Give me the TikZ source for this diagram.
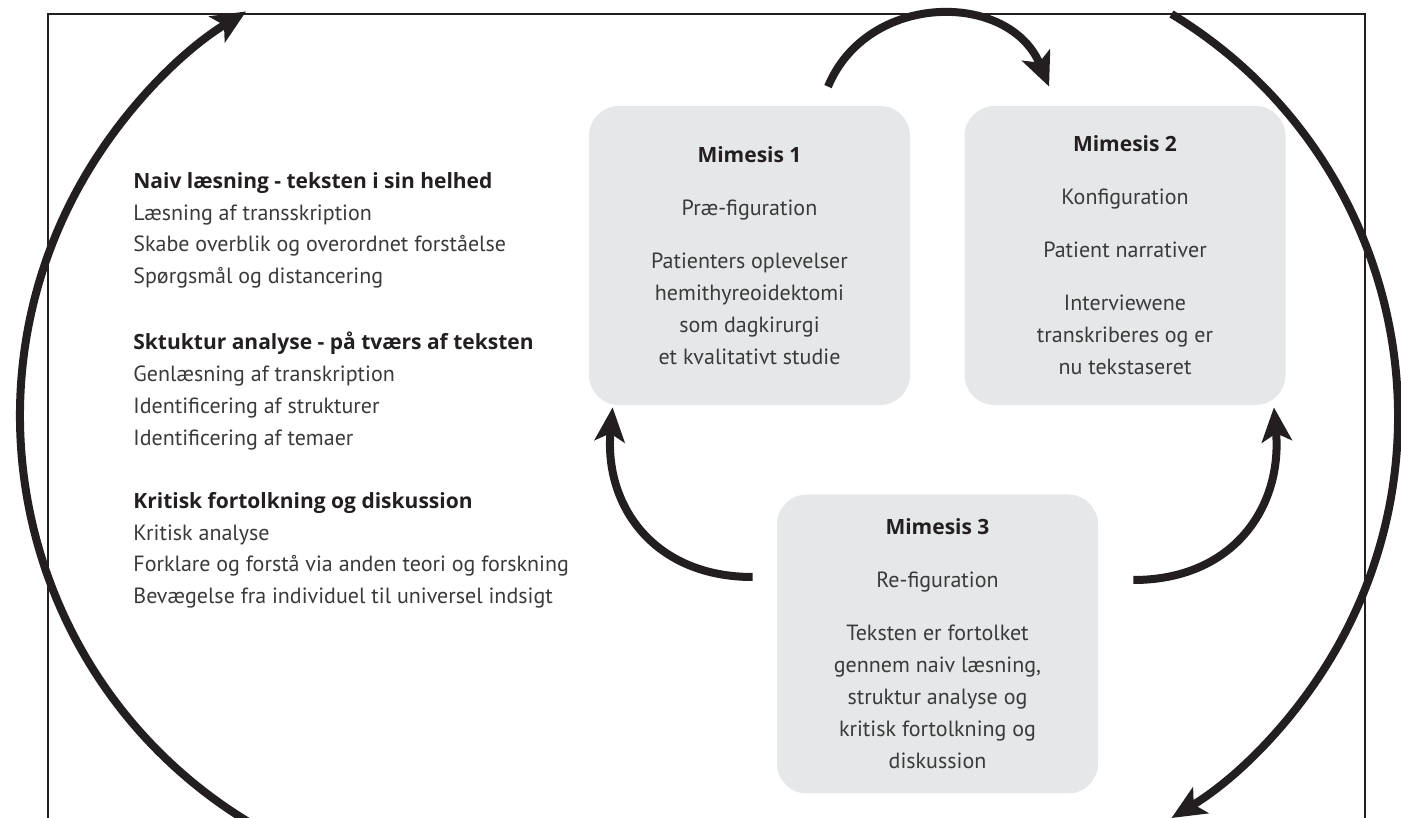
\documentclass[tikz,border=0pt]{standalone}
\usepackage{fontspec}
\setmainfont{PT Sans}
\newfontfamily\hdfont{Open Sans}
\usetikzlibrary{calc,positioning,arrows.meta}
\definecolor{boxgray}{HTML}{E6E7E8}
\definecolor{inkgray}{HTML}{3A3A3A}
\definecolor{inkblack}{HTML}{231F20}

\tikzset{
  mimbox/.style={rectangle, rounded corners=15pt, fill=boxgray, minimum width=160.5pt,
    minimum height=149.5pt, align=center, inner sep=0pt, text=inkgray,
    font=\fontsize{11}{16}\selectfont},
  steps/.style={anchor=north west, align=left, inner sep=0pt, text=inkgray,
    font=\fontsize{11}{15.85}\selectfont},
  cyc/.style={line width=4pt, draw=inkblack, -{Stealth[length=17pt, width=15pt, inset=4pt]}},
  frame/.style={line width=1pt, draw=inkblack},
}
\newcommand{\hd}[1]{{\color{inkblack}\hdfont\bfseries\fontsize{10.5}{15.85}\selectfont #1}}

\begin{document}
\begin{tikzpicture}[x=0.5pt, y=0.5pt]
    \useasboundingbox (0,0) rectangle (1401,818);

    % Open frame
    \draw[frame] (48,0) |- (1365,804) -- (1365,0);

    % The three mimesis boxes
    \node[mimbox] (m1) at (749.5,562.5) {\hd{Mimesis 1}\\[10.5pt] Præ-figuration\\[10.5pt]
      Patienters oplevelser\\ hemithyreoidektomi\\ som dagkirurgi\\ et kvalitativt studie};
    \node[mimbox] (m2) at (1125,562.5) {\hd{Mimesis 2}\\[10.5pt] Konfiguration\\[10.5pt]
      Patient narrativer\\[10.5pt] Interviewene\\ transkriberes og er\\ nu tekstaseret};
    \node[mimbox] (m3) at (937.5,174) {\hd{Mimesis 3}\\[10.5pt] Re-figuration\\[10.5pt]
      Teksten er fortolket\\ gennem naiv læsning,\\ struktur analyse og\\
      kritisk fortolkning og\\ diskussion};

    % Analysis steps on the left
    \node[steps] (naiv) at (133,646) {\hd{Naiv læsning - teksten i sin helhed}\\
      Læsning af transskription\\ Skabe overblik og overordnet forståelse\\
      Spørgsmål og distancering};
    \node[steps] (struktur) at (133,486) {\hd{Sktuktur analyse - på tværs af teksten}\\
      Genlæsning af transkription\\ Identificering af strukturer\\
      Identificering af temaer};
    \node[steps] (kritisk) at (133,326) {\hd{Kritisk fortolkning og diskussion}\\
      Kritisk analyse\\ Forklare og forstå via anden teori og forskning\\
      Bevægelse fra individuel til universel indsigt};

    % Arrow ends near the boxes
    \coordinate (a1) at ($(m1.north)+(78.5,19)$);
    \coordinate (a2) at ($(m2.north west)+(85,19)$);
    \coordinate (b1) at ($(m3.west)+(-24,67)$);
    \coordinate (b2) at ($(m1.south west)+(24,-2)$);
    \coordinate (c1) at ($(m3.east)+(35,64)$);
    \coordinate (c2) at ($(m2.south east)+(-12,-2)$);

    % Small cycle arrows between the boxes
    \draw[cyc] (a1) to[out=67.5, in=112.5, looseness=1.2] (a2);
    \draw[cyc] (b1) to[out=180, in=-95, looseness=1.15] (b2);
    \draw[cyc] (c1) to[out=0, in=-85, looseness=1.15] (c2);

    % Big outer arcs
    \coordinate (lb) at ($(495,402)+(238.6:475)$);
    \coordinate (rt) at ($(928,402)+(58.8:470)$);
    \draw[cyc] (lb) arc[start angle=238.6, end angle=121.6, radius=475];
    \draw[cyc] (rt) arc[start angle=58.8, end angle=-58.8, radius=470];
\end{tikzpicture}
\end{document}
